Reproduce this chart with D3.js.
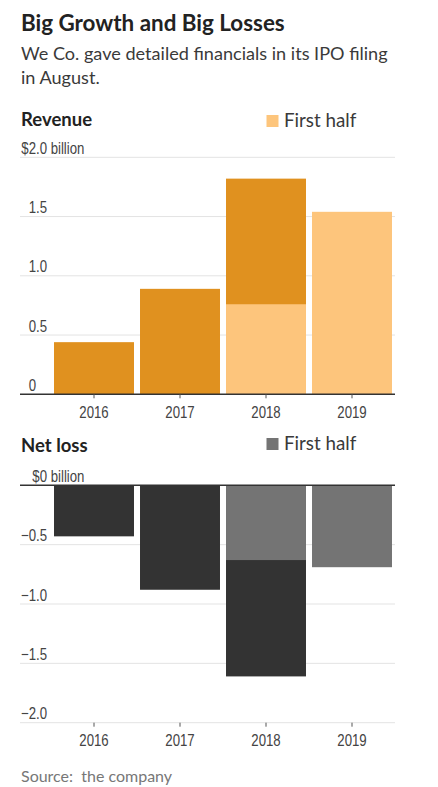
<!DOCTYPE html>
<html><head><meta charset="utf-8">
<script src="https://cdn.jsdelivr.net/npm/d3@7/dist/d3.min.js"></script>
<style>
html,body{margin:0;padding:0;background:#fff;}
svg{display:block;}
.sans{font-family:Lato,"Noto Sans",sans-serif;}
.num{font-family:"Liberation Sans Narrow","Liberation Sans",Arial,sans-serif;}
</style></head>
<body>
<svg id="chart" width="438" height="787"></svg>
<script>
const years = ["2016","2017","2018","2019"];
const revenueFull = [0.44, 0.89, 1.82, null];
const revenueH1 = [null, null, 0.76, 1.54];
const lossFull = [-0.43, -0.88, -1.61, null];
const lossH1 = [null, null, -0.63, -0.69];
const revenueTicks = [0, 0.5, 1.0, 1.5, 2.0];
const lossTicks = [0, -0.5, -1.0, -1.5, -2.0];

const colors = {revFull:"#E0911F", revH1:"#FDC57C", lossFull:"#333333", lossH1:"#747474"};

const svg = d3.select("#chart");

// measure narrow font; compress horizontally if the narrow face is missing
const probe = svg.append("text").attr("class","num").attr("font-size",16).text("2016");
const probeW = probe.node().getComputedTextLength();
probe.remove();
const sx = probeW > 30.5 ? 28.5 / probeW : 1;

svg.append("text").attr("class","sans").attr("x",21).attr("y",31)
  .attr("font-size",22.4).attr("font-weight",700).attr("fill","#222")
  .text("Big Growth and Big Losses");
svg.append("text").attr("class","sans").attr("x",21).attr("y",60)
  .attr("font-size",18.1).attr("fill","#3a3a3a")
  .text("We Co. gave detailed financials in its IPO filing");
svg.append("text").attr("class","sans").attr("x",21).attr("y",84)
  .attr("font-size",18.1).attr("fill","#3a3a3a")
  .text("in August.");

const x = d3.scaleBand().domain(years).range([51,395]).paddingInner(0.07).paddingOuter(0.035);
const left = 20, right = 395, numEnd = 47;

function panel(opts){
  const g = svg.append("g");
  const y = d3.scaleLinear().domain(opts.domain).range(opts.range);
  // title + legend
  g.append("text").attr("class","sans").attr("x",21).attr("y",opts.titleY)
    .attr("font-size",18.5).attr("font-weight",700).attr("fill","#222").text(opts.title);
  g.append("rect").attr("x",266.5).attr("y",opts.legendY).attr("width",12).attr("height",12)
    .attr("fill",opts.h1Color);
  g.append("text").attr("class","sans").attr("x",284).attr("y",opts.legendY+11.5)
    .attr("font-size",18.8).attr("fill","#3a3a3a").text("First half");
  // gridlines
  g.selectAll("line.grid").data(opts.ticks.filter(t=>t!==opts.zero)).join("line")
    .attr("x1",left).attr("x2",right).attr("y1",d=>y(d)).attr("y2",d=>y(d))
    .attr("stroke","#e3e3e3").attr("stroke-width",1);
  // bars
  const full = opts.full.map((v,i)=>({k:years[i],v})).filter(d=>d.v!==null);
  const h1 = opts.h1.map((v,i)=>({k:years[i],v})).filter(d=>d.v!==null);
  g.selectAll("rect.full").data(full).join("rect")
    .attr("x",d=>x(d.k)).attr("width",x.bandwidth())
    .attr("y",d=>Math.min(y(d.v),y(0))).attr("height",d=>Math.abs(y(d.v)-y(0)))
    .attr("fill",opts.fullColor);
  g.selectAll("rect.h1").data(h1).join("rect")
    .attr("x",d=>x(d.k)).attr("width",x.bandwidth())
    .attr("y",d=>Math.min(y(d.v),y(0))).attr("height",d=>Math.abs(y(d.v)-y(0)))
    .attr("fill",opts.h1Color);
  // zero line
  g.append("line").attr("x1",left).attr("x2",right).attr("y1",y(0)).attr("y2",y(0))
    .attr("stroke","#333").attr("stroke-width",1.5);
  // y labels
  const fs = 16.5;
  opts.ticks.forEach(t=>{
    const isTop = t===opts.labelTop;
    const str = opts.fmt(t);
    const lg = g.append("g");
    const txt = lg.append("text").attr("class","num").attr("font-size",fs).attr("fill","#444").text(str);
    const w = txt.node().getComputedTextLength();
    let end = numEnd;
    if (str === "0") {
      const tmp = lg.append("text").attr("class","num").attr("font-size",fs).text(".5");
      end = numEnd - tmp.node().getComputedTextLength()*sx;
      tmp.remove();
    }
    txt.attr("x", -w);
    if (isTop) txt.append("tspan").text(" billion");
    lg.attr("transform",`translate(${end},${y(t)-3.5}) scale(${sx},1)`);
  });
  // x axis
  const ax = g.append("g").attr("transform",`translate(0,${opts.axisY})`)
    .call(d3.axisBottom(x).tickSize(4).tickPadding(8).tickSizeOuter(0));
  ax.select(".domain").remove();
  ax.selectAll(".tick line").attr("stroke","#555");
  ax.selectAll(".tick text").attr("class","num").attr("font-size",16.5).attr("fill","#444")
    .attr("transform",`scale(${sx},1)`);
}

panel({
  title:"Revenue", titleY:126, legendY:115,
  domain:[0,2], range:[394.3,157.3], ticks:revenueTicks, zero:0, labelTop:2.0,
  full:revenueFull, h1:revenueH1, fullColor:colors.revFull, h1Color:colors.revH1,
  axisY:394.3, fmt:d=> d===2 ? "$2.0" : (d===0 ? "0" : d.toFixed(1))
});

panel({
  title:"Net loss", titleY:452, legendY:438,
  domain:[-2,0], range:[722.7,485.3], ticks:lossTicks, zero:0, labelTop:0,
  full:lossFull, h1:lossH1, fullColor:colors.lossFull, h1Color:colors.lossH1,
  axisY:722.7, fmt:d=> d===0 ? "$0" : "\u2212"+Math.abs(d).toFixed(1)
});

svg.append("text").attr("class","sans").attr("x",21).attr("y",782)
  .attr("font-size",16).attr("fill","#777").text("Source:\u00a0 the company");
</script>
</body></html>
